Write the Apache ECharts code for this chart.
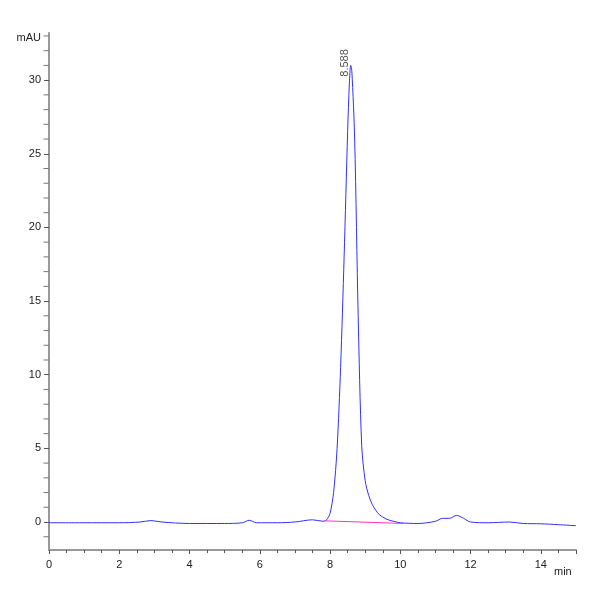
<!DOCTYPE html>
<html>
<head>
<meta charset="utf-8">
<script src="https://cdn.jsdelivr.net/npm/echarts@6/dist/echarts.min.js"></script>
<style>html,body{margin:0;background:#fff}#c{width:600px;height:600px}</style>
</head>
<body>
<div id="c"></div>
<script>
// chromatogram trace (min, mAU)
const times = [0, 1, 2, 2.6, 2.9, 3.2, 4, 5, 5.5, 5.7, 5.9, 6.5, 7, 7.5, 7.8, 7.9, 8.0, 8.1, 8.2, 8.3, 8.4, 8.5, 8.55, 8.588, 8.62, 8.7, 8.8, 8.9, 9.0, 9.1, 9.2, 9.3, 9.4, 9.6, 9.8, 10.0, 10.5, 11.0, 11.2, 11.4, 11.6, 11.8, 12.0, 12.5, 13.1, 13.5, 14, 14.5, 15]
const signal = [-0.05, -0.05, -0.05, 0.0, 0.1, 0.0, -0.1, -0.1, -0.05, 0.12, -0.05, -0.05, 0.0, 0.15, 0.05, 0.15, 0.6, 2.0, 5.0, 10.5, 18, 26.5, 29.8, 31.0, 30.6, 26, 14, 5.2, 2.8, 1.8, 1.2, 0.8, 0.5, 0.2, 0.05, -0.05, -0.1, 0.05, 0.25, 0.25, 0.45, 0.25, 0.0, -0.05, 0.0, -0.1, -0.12, -0.18, -0.25]
const baseline = [[7.85, 0.08], [10.1, -0.1]]
const peakTime = 8.588
const yLabels = [0, 5, 10, 15, 20, 25, 30]
const yMinor = [-1, 1, 2, 3, 4, 6, 7, 8, 9, 11, 12, 13, 14, 16, 17, 18, 19, 21, 22, 23, 24, 26, 27, 28, 29, 31, 32, 33]

const chart = echarts.init(document.getElementById('c'))
const axisCol = '#999'
chart.setOption({
  animation: false,
  grid: { left: 49, right: 24, top: 33, bottom: 50 },
  xAxis: {
    type: 'value', min: 0, max: 15, interval: 2,
    name: 'min', nameLocation: 'end', nameGap: -22,
    nameTextStyle: { color: '#222', fontSize: 11, padding: [16, 0, 0, 0], verticalAlign: 'top' },
    axisLine: { onZero: false, lineStyle: { color: axisCol, width: 2 } },
    axisTick: { lineStyle: { color: '#555' }, length: 4 },
    minorTick: { show: true, splitNumber: 4, length: 3, lineStyle: { color: '#555' } },
    axisLabel: { color: '#222', fontSize: 11, showMaxLabel: false, margin: 9 },
    splitLine: { show: false }
  },
  yAxis: {
    type: 'value', min: -1.9, max: 33.2,
    name: 'mAU', nameLocation: 'end', nameGap: -10,
    nameTextStyle: { color: '#222', fontSize: 11, align: 'right', padding: [0, 8, 0, 0] },
    axisLine: { show: true, lineStyle: { color: axisCol, width: 2 } },
    axisTick: { show: true, length: 5, lineStyle: { color: '#555' }, customValues: yLabels },
    axisLabel: { color: '#222', fontSize: 11, customValues: yLabels, margin: 8 },
    splitLine: { show: false }
  },
  series: [
    {
      type: 'line', symbol: 'none', smooth: 0.3,
      lineStyle: { color: '#3030ff', width: 1 },
      data: times.map((t, i) => [t, signal[i]])
    },
    {
      type: 'scatter', symbol: 'circle', symbolSize: 1, silent: true,
      itemStyle: { color: 'rgba(0,0,0,0)' },
      data: [[peakTime, 31.0]],
      label: {
        show: true, formatter: peakTime.toFixed(3), rotate: 90, position: 'top',
        color: '#222', fontSize: 11, distance: 2
      }
    },
    {
      type: 'line', symbol: 'none',
      lineStyle: { color: '#ff33cc', width: 1 },
      data: baseline
    },
    {
      type: 'scatter', symbol: 'rect', symbolSize: [5, 1], silent: true,
      itemStyle: { color: '#555' },
      data: yMinor.map(v => [0, v]),
      symbolOffset: [-3, 0]
    }
  ]
})
</script>
</body>
</html>
